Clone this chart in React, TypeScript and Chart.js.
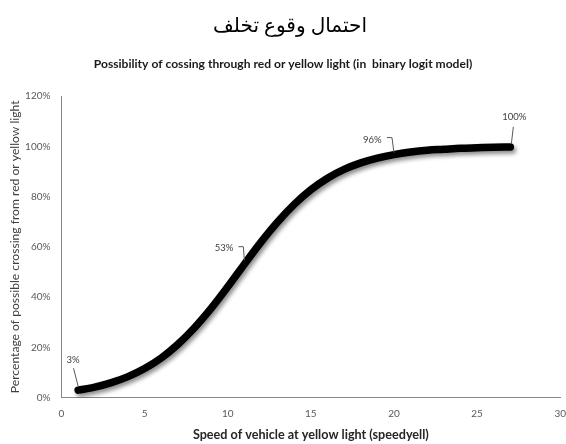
import React, { useEffect, useRef } from "react";
import { Chart, registerables } from "chart.js";

Chart.register(...registerables);

// ---- data ----
const speeds = [1, 2, 3, 4, 5, 6, 7, 8, 9, 10, 11, 12, 13, 14, 15, 16, 17, 18, 19, 20, 21, 22, 23, 24, 25, 26, 27];
const probabilities = [3.0, 4.2, 6.0, 8.4, 11.6, 15.8, 21.2, 27.8, 35.5, 44.1, 53.1, 61.9, 69.9, 76.9, 82.7, 87.3, 90.8, 93.4, 95.3, 96.7, 97.7, 98.4, 98.8, 99.2, 99.4, 99.6, 99.7];
const xTickValues = [0, 5, 10, 15, 20, 25, 30];
const yTickValues = [0, 20, 40, 60, 80, 100, 120];
const labeledSpeeds = [1, 11, 20, 27];
const labelTexts = ["3%", "53%", "96%", "100%"];

const titleText = "احتمال وقوع تخلف";
const subtitleText = "Possibility of cossing through red or yellow light (in  binary logit model)";
const xTitleText = "Speed of vehicle at yellow light (speedyell)";
const yTitleText = "Percentage of possible crossing from red or yellow light";

// ---- styles ----
const LATIN = "Lato, 'Open Sans', sans-serif";
const ARABIC = "'Times New Roman', 'Liberation Serif', 'DejaVu Serif', 'DejaVu Sans', serif";

// leader-line / label offsets relative to the point (pixels)
const LEADERS = [
  { tx: -5, ty: -30.5, align: "center", path: [[-4.6, -22], [0, -4]] },
  { tx: -11, ty: -16, align: "right", path: [[-6, -17.5], [-1, -17.5], [0, -4]] },
  { tx: -12.4, ty: -15, align: "right", path: [[-7, -17], [-2, -17], [0, -2]] },
  { tx: 4, ty: -30, align: "center", path: [[3, -20.3], [1, -3]] },
];

function fitSize(text: string, weight: string, family: string, target: number): number {
  const c = document.createElement("canvas");
  const ctx = c.getContext("2d")!;
  ctx.font = `${weight} 100px ${family}`;
  const w = ctx.measureText(text).width;
  return w > 0 ? (100 * target) / w : 11;
}

export default function App() {
  const canvasRef = useRef<HTMLCanvasElement | null>(null);

  useEffect(() => {
    document.body.style.margin = "0";
    const canvas = canvasRef.current;
    if (!canvas) return;

    const subSize = fitSize(subtitleText, "bold", LATIN, 379);
    const arSize = fitSize(titleText, "normal", ARABIC, 154);
    const xTitleSize = fitSize(xTitleText, "bold", LATIN, 236);
    const yTitleSize = fitSize(yTitleText, "normal", LATIN, 293);

    const decorPlugin = {
      id: "decor",
      beforeDatasetsDraw(chart: any) {
        const ctx = chart.ctx;
        ctx.save();
        ctx.shadowColor = "rgba(0,0,0,0.45)";
        ctx.shadowBlur = 4;
        ctx.shadowOffsetX = 2;
        ctx.shadowOffsetY = 3;
      },
      afterDatasetsDraw(chart: any) {
        const ctx = chart.ctx;
        ctx.restore();
        const meta = chart.getDatasetMeta(0);
        ctx.save();
        ctx.strokeStyle = "#595959";
        ctx.lineWidth = 1;
        ctx.fillStyle = "#404040";
        ctx.font = `normal 9.5px ${LATIN}`;
        ctx.textBaseline = "middle";
        labeledSpeeds.forEach((s, i) => {
          const idx = speeds.indexOf(s);
          const el = meta.data[idx];
          if (!el) return;
          const px = el.x;
          const py = el.y;
          const L = LEADERS[i];
          ctx.beginPath();
          L.path.forEach((p, j) => {
            if (j === 0) ctx.moveTo(px + p[0], py + p[1]);
            else ctx.lineTo(px + p[0], py + p[1]);
          });
          ctx.stroke();
          ctx.textAlign = L.align;
          ctx.fillText(labelTexts[i], px + L.tx, py + L.ty);
        });
        ctx.restore();
      },
      afterDraw(chart: any) {
        const ctx = chart.ctx;
        ctx.save();
        ctx.textAlign = "center";
        ctx.textBaseline = "middle";
        ctx.fillStyle = "#000000";
        ctx.font = `normal ${arSize}px ${ARABIC}`;
        ctx.direction = "rtl";
        ctx.fillText(titleText, 290, 27);
        ctx.direction = "ltr";
        ctx.fillStyle = "#1a1a1a";
        ctx.font = `bold ${subSize}px ${LATIN}`;
        ctx.fillText(subtitleText, 283, 64);
        ctx.restore();
      },
    };

    const chart = new Chart(canvas, {
      type: "line",
      data: {
        datasets: [
          {
            data: speeds.map((s, i) => ({ x: s, y: probabilities[i] })),
            borderColor: "#000000",
            borderWidth: 7.5,
            borderCapStyle: "round",
            borderJoinStyle: "round",
            cubicInterpolationMode: "monotone",
            pointRadius: 0,
            pointHoverRadius: 0,
            fill: false,
          },
        ],
      },
      options: {
        responsive: false,
        animation: false,
        events: [],
        layout: { padding: { top: 96, left: 0, right: 5, bottom: 0 } },
        plugins: {
          legend: { display: false },
          tooltip: { enabled: false },
          title: { display: false },
        },
        scales: {
          x: {
            type: "linear",
            min: 0,
            max: 30,
            afterBuildTicks: (scale: any) => {
              scale.ticks = xTickValues.map((v) => ({ value: v }));
            },
            afterFit: (scale: any) => {
              scale.height = 46.3;
            },
            grid: { display: false, drawTicks: true, tickLength: 10 },
            border: { display: true, color: "#878787", width: 1 },
            ticks: {
              color: "#595959",
              font: { family: LATIN, size: 10 },
              padding: 0,
              maxRotation: 0,
            },
            title: {
              display: true,
              text: xTitleText,
              color: "#262626",
              font: { family: LATIN, size: xTitleSize, weight: "bold" },
              padding: { top: 0, bottom: 2 },
            },
          },
          y: {
            type: "linear",
            min: 0,
            max: 120,
            afterBuildTicks: (scale: any) => {
              scale.ticks = yTickValues.map((v) => ({ value: v }));
            },
            afterFit: (scale: any) => {
              scale.width = 61.5;
            },
            grid: { display: false, drawTicks: false },
            border: { display: true, color: "#878787", width: 1 },
            ticks: {
              color: "#595959",
              font: { family: LATIN, size: 10 },
              padding: 11,
              callback: (v: any) => `${v}%`,
            },
            title: {
              display: true,
              text: yTitleText,
              color: "#404040",
              font: { family: LATIN, size: yTitleSize, weight: "normal" },
              padding: { top: 8, bottom: 0 },
            },
          },
        },
      },
      plugins: [decorPlugin],
    } as any);

    return () => {
      chart.destroy();
    };
  }, []);

  return (
    <div style={{ width: 566, height: 444 }}>
      <canvas ref={canvasRef} width={566} height={444} style={{ width: 566, height: 444, display: "block" }} />
    </div>
  );
}
